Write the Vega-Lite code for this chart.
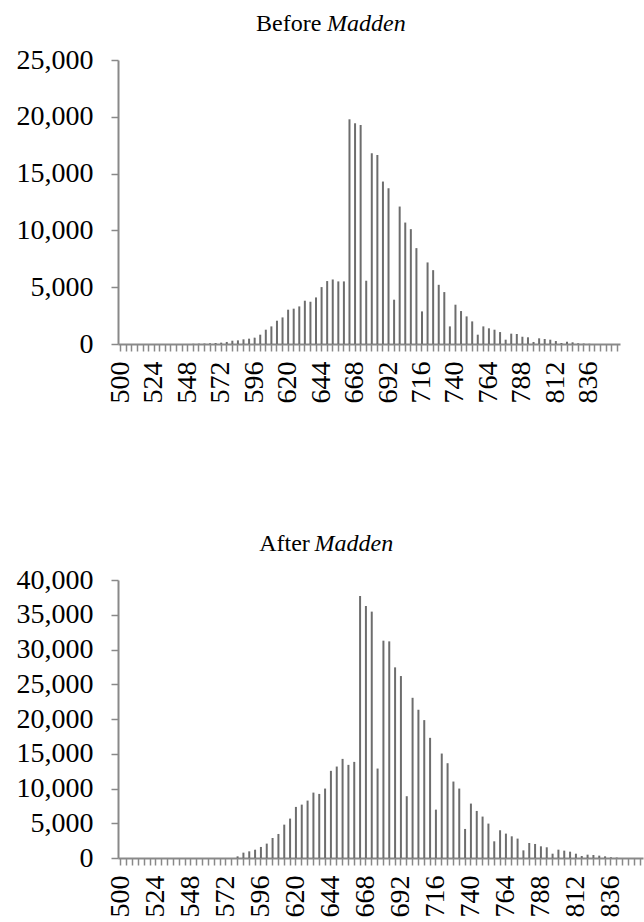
{
  "$schema": "https://vega.github.io/schema/vega-lite/v6.json",
  "background": "white",
  "padding": {"left": 16, "top": 12, "right": 0, "bottom": 0},
  "spacing": 129,
  "config": {
    "view": {"stroke": null},
    "font": "Liberation Serif",
    "axis": {
      "labelFont": "Liberation Serif",
      "labelFontSize": 28,
      "labelColor": "#000000",
      "domainColor": "#898989",
      "domainWidth": 2,
      "tickColor": "#898989",
      "tickWidth": 1.5,
      "grid": false,
      "title": null
    },
    "axisX": {"tickSize": 7, "labelPadding": 10, "labelAngle": -90, "labelOverlap": false},
    "axisY": {"tickSize": 7, "labelPadding": 18, "format": ",d"},
    "title": {
      "font": "Liberation Serif",
      "fontSize": 24,
      "fontWeight": "normal",
      "color": "#000000",
      "anchor": "middle",
      "offset": 10
    }
  },
  "datasets": {
    "before": [
      {"score": 500, "loans": 0}, {"score": 504, "loans": 0}, {"score": 508, "loans": 0}, {"score": 512, "loans": 0},
      {"score": 516, "loans": 0}, {"score": 520, "loans": 0}, {"score": 524, "loans": 0}, {"score": 528, "loans": 0},
      {"score": 532, "loans": 0}, {"score": 536, "loans": 0}, {"score": 540, "loans": 0}, {"score": 544, "loans": 0},
      {"score": 548, "loans": 0}, {"score": 552, "loans": 20}, {"score": 556, "loans": 30}, {"score": 560, "loans": 40},
      {"score": 564, "loans": 60}, {"score": 568, "loans": 90}, {"score": 572, "loans": 120}, {"score": 576, "loans": 180},
      {"score": 580, "loans": 290}, {"score": 584, "loans": 320}, {"score": 588, "loans": 410}, {"score": 592, "loans": 470},
      {"score": 596, "loans": 560}, {"score": 600, "loans": 820}, {"score": 604, "loans": 1260}, {"score": 608, "loans": 1550},
      {"score": 612, "loans": 2050}, {"score": 616, "loans": 2340}, {"score": 620, "loans": 3020}, {"score": 624, "loans": 3110},
      {"score": 628, "loans": 3310}, {"score": 632, "loans": 3810}, {"score": 636, "loans": 3720}, {"score": 640, "loans": 4100},
      {"score": 644, "loans": 5010}, {"score": 648, "loans": 5540}, {"score": 652, "loans": 5680}, {"score": 656, "loans": 5510},
      {"score": 660, "loans": 5510}, {"score": 664, "loans": 19780}, {"score": 668, "loans": 19430}, {"score": 672, "loans": 19280},
      {"score": 676, "loans": 5570}, {"score": 680, "loans": 16790}, {"score": 684, "loans": 16640}, {"score": 688, "loans": 14300},
      {"score": 692, "loans": 13710}, {"score": 696, "loans": 3900}, {"score": 700, "loans": 12100}, {"score": 704, "loans": 10690},
      {"score": 708, "loans": 10110}, {"score": 712, "loans": 8440}, {"score": 716, "loans": 2870}, {"score": 720, "loans": 7180},
      {"score": 724, "loans": 6500}, {"score": 728, "loans": 5210}, {"score": 732, "loans": 4570}, {"score": 736, "loans": 1550},
      {"score": 740, "loans": 3460}, {"score": 744, "loans": 2900}, {"score": 748, "loans": 2430}, {"score": 752, "loans": 1990},
      {"score": 756, "loans": 820}, {"score": 760, "loans": 1550}, {"score": 764, "loans": 1380}, {"score": 768, "loans": 1260},
      {"score": 772, "loans": 1050}, {"score": 776, "loans": 380}, {"score": 780, "loans": 910}, {"score": 784, "loans": 880},
      {"score": 788, "loans": 640}, {"score": 792, "loans": 590}, {"score": 796, "loans": 180}, {"score": 800, "loans": 500},
      {"score": 804, "loans": 440}, {"score": 808, "loans": 380}, {"score": 812, "loans": 260}, {"score": 816, "loans": 90},
      {"score": 820, "loans": 200}, {"score": 824, "loans": 150}, {"score": 828, "loans": 60}, {"score": 832, "loans": 40},
      {"score": 836, "loans": 20}, {"score": 840, "loans": 0}, {"score": 844, "loans": 0}, {"score": 848, "loans": 0},
      {"score": 852, "loans": 0}, {"score": 856, "loans": 0}
    ],
    "after": [
      {"score": 500, "loans": 0}, {"score": 504, "loans": 0}, {"score": 508, "loans": 0}, {"score": 512, "loans": 0},
      {"score": 516, "loans": 0}, {"score": 520, "loans": 0}, {"score": 524, "loans": 0}, {"score": 528, "loans": 0},
      {"score": 532, "loans": 0}, {"score": 536, "loans": 0}, {"score": 540, "loans": 0}, {"score": 544, "loans": 0},
      {"score": 548, "loans": 0}, {"score": 552, "loans": 0}, {"score": 556, "loans": 0}, {"score": 560, "loans": 0},
      {"score": 564, "loans": 0}, {"score": 568, "loans": 0}, {"score": 572, "loans": 0}, {"score": 576, "loans": 0},
      {"score": 580, "loans": 240}, {"score": 584, "loans": 770}, {"score": 588, "loans": 960}, {"score": 592, "loans": 1200},
      {"score": 596, "loans": 1590}, {"score": 600, "loans": 2070}, {"score": 604, "loans": 2880}, {"score": 608, "loans": 3460},
      {"score": 612, "loans": 4800}, {"score": 616, "loans": 5670}, {"score": 620, "loans": 7350}, {"score": 624, "loans": 7680},
      {"score": 628, "loans": 8260}, {"score": 632, "loans": 9410}, {"score": 636, "loans": 9220}, {"score": 640, "loans": 9990},
      {"score": 644, "loans": 12540}, {"score": 648, "loans": 13160}, {"score": 652, "loans": 14260}, {"score": 656, "loans": 13400},
      {"score": 660, "loans": 13830}, {"score": 664, "loans": 37700}, {"score": 668, "loans": 36260}, {"score": 672, "loans": 35450},
      {"score": 676, "loans": 12870}, {"score": 680, "loans": 31270}, {"score": 684, "loans": 31170}, {"score": 688, "loans": 27430},
      {"score": 692, "loans": 26180}, {"score": 696, "loans": 8890}, {"score": 700, "loans": 23050}, {"score": 704, "loans": 21330},
      {"score": 708, "loans": 19840}, {"score": 712, "loans": 17290}, {"score": 716, "loans": 6960}, {"score": 720, "loans": 15030},
      {"score": 724, "loans": 13640}, {"score": 728, "loans": 11000}, {"score": 732, "loans": 9990}, {"score": 736, "loans": 4180},
      {"score": 740, "loans": 7830}, {"score": 744, "loans": 6770}, {"score": 748, "loans": 5960}, {"score": 752, "loans": 4950},
      {"score": 756, "loans": 2400}, {"score": 760, "loans": 3990}, {"score": 764, "loans": 3510}, {"score": 768, "loans": 3120},
      {"score": 772, "loans": 2790}, {"score": 776, "loans": 1100}, {"score": 780, "loans": 2160}, {"score": 784, "loans": 2020},
      {"score": 788, "loans": 1680}, {"score": 792, "loans": 1540}, {"score": 796, "loans": 620}, {"score": 800, "loans": 1200},
      {"score": 804, "loans": 1060}, {"score": 808, "loans": 910}, {"score": 812, "loans": 620}, {"score": 816, "loans": 290},
      {"score": 820, "loans": 480}, {"score": 824, "loans": 430}, {"score": 828, "loans": 340}, {"score": 832, "loans": 240},
      {"score": 836, "loans": 100}, {"score": 840, "loans": 60}, {"score": 844, "loans": 0}, {"score": 848, "loans": 0},
      {"score": 852, "loans": 0}, {"score": 856, "loans": 0}
    ]
  },
  "vconcat": [
    {
      "title": {"text": "Before", "align": "right", "dx": -2, "offset": -24},
      "vconcat": [
        {
          "data": {"name": "before"},
          "title": {"text": "Madden", "align": "left", "dx": -42, "fontStyle": "italic"},
          "width": 502,
          "height": 284,
          "mark": {"type": "bar", "size": 2, "color": "#6d6d6d"},
          "encoding": {
            "x": {
              "field": "score",
              "type": "ordinal",
              "scale": {"paddingInner": 0, "paddingOuter": 0},
              "axis": {"labelExpr": "(datum.value - 500) % 24 === 0 && datum.value <= 836 ? datum.value : ''"}
            },
            "y": {
              "field": "loans",
              "type": "quantitative",
              "scale": {"domain": [0, 25000], "nice": false},
              "axis": {"values": [0, 5000, 10000, 15000, 20000, 25000]}
            }
          }
        }
      ]
    },
    {
      "title": {"text": "After", "align": "right", "dx": -25, "offset": -24},
      "vconcat": [
        {
          "data": {"name": "after"},
          "title": {"text": "Madden", "align": "left", "dx": -66, "fontStyle": "italic"},
          "width": 525,
          "height": 278,
          "mark": {"type": "bar", "size": 2, "color": "#6d6d6d"},
          "encoding": {
            "x": {
              "field": "score",
              "type": "ordinal",
              "scale": {"paddingInner": 0, "paddingOuter": 0},
              "axis": {"labelExpr": "(datum.value - 500) % 24 === 0 && datum.value <= 836 ? datum.value : ''"}
            },
            "y": {
              "field": "loans",
              "type": "quantitative",
              "scale": {"domain": [0, 40000], "nice": false},
              "axis": {"values": [0, 5000, 10000, 15000, 20000, 25000, 30000, 35000, 40000]}
            }
          }
        }
      ]
    }
  ]
}
